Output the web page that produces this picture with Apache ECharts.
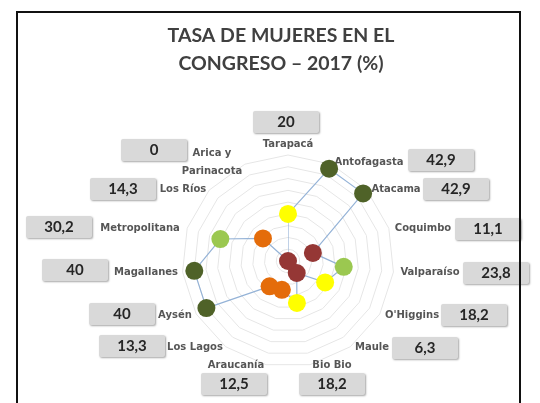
<!DOCTYPE html>
<html>
<head>
<meta charset="utf-8">
<script src="https://cdn.jsdelivr.net/npm/echarts@6/dist/echarts.min.js"></script>
<style>
  html, body { margin: 0; padding: 0; background: #fff; }
  #chart { width: 540px; height: 403px; }
  .frame {
    position: absolute; left: 16px; top: 11px; width: 501px; height: 420px;
    border: 2px solid #111; pointer-events: none;
  }
</style>
</head>
<body>
<div id="chart"></div>
<div class="frame"></div>
<script>
// regions, clockwise from the top
const regions = ['Tarapacá', 'Antofagasta', 'Atacama', 'Coquimbo', 'Valparaíso', "O'Higgins", 'Maule',
  'Bio Bio', 'Araucanía', 'Los Lagos', 'Aysén', 'Magallanes', 'Metropolitana', 'Los Ríos', 'Arica y\nParinacota']
const rates = [20, 42.9, 42.9, 11.1, 23.8, 18.2, 6.3, 18.2, 12.5, 13.3, 40, 40, 30.2, 14.3, 0]

// where the grey value boxes sit (centre, px)
const boxPos = [[286, 122], [441, 160], [456, 189], [488, 229], [496, 273], [474, 315], [425, 348],
  [332, 384], [234, 384], [132, 346], [122, 314], [75, 270], [59, 227], [123, 189], [154, 150]]
// where the region names sit (centre, px)
const namePos = [[288, 144], [369, 162], [396, 189], [423, 228], [430, 272], [412, 315], [372, 347],
  [332, 365], [236, 365], [195, 347], [175, 315], [146, 272], [140, 228], [183, 189], [212, 162]]

const CENTER = [288, 261]
const RADIUS = 106
const MAX = 45

const chart = echarts.init(document.getElementById('chart'))

const boxLabel = {
  show: true,
  position: 'inside',
  formatter: p => String(p.value[0]).replace('.', ','),
  color: '#262626',
  fontFamily: 'Lato',
  fontWeight: 'bold',
  fontSize: 15,
  backgroundColor: '#d9d9d9',
  borderRadius: 2,
  width: 60,
  height: 16,
  lineHeight: 16,
  padding: [3, 3],
  align: 'center',
  verticalAlign: 'middle',
  shadowColor: 'rgba(0,0,0,0.35)',
  shadowBlur: 2,
  shadowOffsetX: 1,
  shadowOffsetY: 1,
}

const nameLabel = {
  show: true,
  position: 'inside',
  formatter: p => p.name,
  color: '#2b2b2b',
  fontFamily: 'DejaVu Sans',
  fontWeight: 'bold',
  fontSize: 10,
  lineHeight: 18,
  align: 'center',
  verticalAlign: 'middle',
}

// pixel offset from each point to its text
let pointPx = null
function offsetsTo(target) {
  return pointPx ? pointPx.map((p, i) => [target[i][0] - p[0], target[i][1] - p[1]]) : null
}
function buildPoints(offsets) {
  return regions.map((r, i) => ({
    name: r,
    value: [rates[i], r],
    label: offsets ? { offset: offsets[i] } : undefined,
  }))
}

const options = {
  animation: false,
  title: {
    text: 'TASA DE MUJERES EN EL\nCONGRESO – 2017 (%)',
    left: 276,
    top: 17,
    textAlign: 'center',
    textStyle: {
      fontFamily: 'Lato',
      fontWeight: 'bold',
      fontSize: 19.5,
      lineHeight: 28,
      color: '#404040',
    },
  },
  radar: {
    center: CENTER,
    radius: RADIUS,
    startAngle: 90,
    splitNumber: 9,
    shape: 'polygon',
    indicator: regions.map(() => ({ name: '', max: MAX, min: 0 })),
    axisName: { show: false },
    axisLine: { show: false },
    axisTick: { show: false },
    axisLabel: { show: false },
    splitArea: { show: false },
    splitLine: { lineStyle: { color: '#e6e6e6', width: 1 } },
  },
  polar: { center: CENTER, radius: RADIUS },
  angleAxis: {
    type: 'category',
    data: regions,
    startAngle: 90,
    clockwise: true,
    boundaryGap: false,
    axisLine: { show: false },
    axisTick: { show: false },
    axisLabel: { show: false },
    splitLine: { show: false },
  },
  radiusAxis: {
    min: 0,
    max: MAX,
    axisLine: { show: false },
    axisTick: { show: false },
    axisLabel: { show: false },
    splitLine: { show: false },
  },
  visualMap: {
    show: false,
    type: 'piecewise',
    seriesIndex: 1,
    dimension: 0,
    pieces: [
      { min: 0, max: 12, color: '#953735' },
      { min: 12, max: 15, color: '#e46c0a' },
      { min: 15, max: 21, color: '#ffff00' },
      { min: 21, max: 35, color: '#9bc850' },
      { min: 35, max: 50, color: '#4f6228' },
    ],
  },
  series: [
    {
      type: 'line',
      coordinateSystem: 'polar',
      symbol: 'none',
      data: regions.map((r, i) => [rates[i], r]).concat([[rates[0], regions[0]]]),
      lineStyle: { color: '#95b3d7', width: 1.2 },
      z: 2,
    },
    {
      type: 'scatter',
      coordinateSystem: 'polar',
      symbolSize: 18,
      itemStyle: { opacity: 1 },
      data: buildPoints(null),
      label: boxLabel,
      z: 4,
    },
    {
      // region names
      type: 'scatter',
      coordinateSystem: 'polar',
      symbolSize: 0,
      silent: true,
      data: buildPoints(null),
      label: nameLabel,
      z: 3,
    },
  ],
}

chart.setOption(options)

pointPx = regions.map((r, i) => {
  let px = chart.convertToPixel({ polarIndex: 0 }, [rates[i], r])
  if (!px) {
    const a = (90 - i * 360 / regions.length) * Math.PI / 180
    const rr = rates[i] / MAX * RADIUS
    px = [CENTER[0] + rr * Math.cos(a), CENTER[1] - rr * Math.sin(a)]
  }
  return px
})
chart.setOption({
  series: [{}, { data: buildPoints(offsetsTo(boxPos)) }, { data: buildPoints(offsetsTo(namePos)) }],
})

window.addEventListener('resize', function () {
  chart && chart.resize()
})
</script>
</body>
</html>
